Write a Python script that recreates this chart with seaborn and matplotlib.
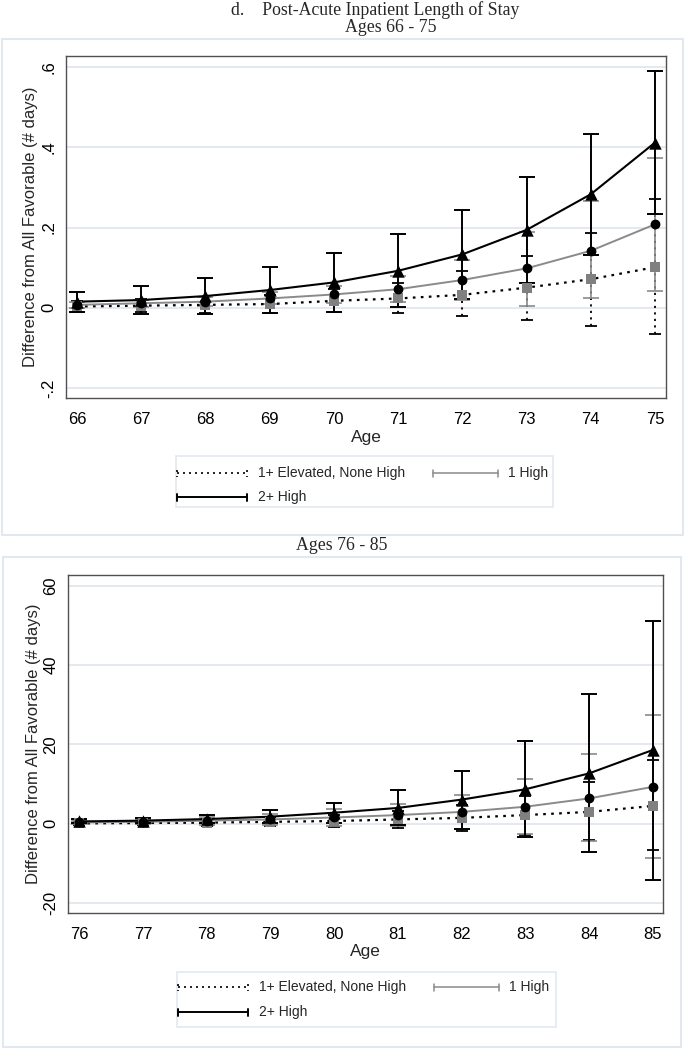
import matplotlib
matplotlib.use("Agg")
import matplotlib.pyplot as plt
from matplotlib.patches import Rectangle
from matplotlib.lines import Line2D
import seaborn as sns
import pandas as pd
import numpy as np

# ---------------- data ----------------
ages_a = [66, 67, 68, 69, 70, 71, 72, 73, 74, 75]
elev_a = [0.003, 0.005, 0.007, 0.009, 0.017, 0.023, 0.032, 0.050, 0.071, 0.101]
elev_a_lo = [-0.010, -0.012, -0.013, -0.014, -0.012, -0.014, -0.022, -0.032, -0.045, -0.066]
elev_a_hi = [0.016, 0.022, 0.027, 0.032, 0.046, 0.062, 0.092, 0.129, 0.186, 0.270]
one_a = [0.007, 0.011, 0.015, 0.023, 0.033, 0.046, 0.069, 0.098, 0.142, 0.208]
one_a_lo = [0.000, 0.002, 0.004, 0.008, 0.011, 0.014, 0.019, 0.005, 0.023, 0.042]
one_a_hi = [0.014, 0.020, 0.026, 0.038, 0.055, 0.078, 0.119, 0.190, 0.266, 0.374]
two_a = [0.015, 0.019, 0.029, 0.044, 0.063, 0.092, 0.133, 0.194, 0.283, 0.412]
two_a_lo = [-0.010, -0.016, -0.017, -0.014, -0.012, 0.001, 0.022, 0.062, 0.132, 0.233]
two_a_hi = [0.040, 0.054, 0.075, 0.102, 0.137, 0.183, 0.244, 0.326, 0.434, 0.591]

ages_b = [76, 77, 78, 79, 80, 81, 82, 83, 84, 85]
elev_b = [0.1, 0.2, 0.3, 0.5, 0.7, 1.1, 1.5, 2.2, 3.0, 4.5]
elev_b_lo = [-0.3, -0.4, -0.5, -0.6, -0.8, -1.0, -1.7, -2.7, -4.1, -6.6]
elev_b_hi = [0.5, 0.8, 1.1, 1.6, 2.2, 3.2, 4.7, 7.0, 10.6, 16.1]
one_b = [0.35, 0.5, 0.8, 1.1, 1.6, 2.2, 3.0, 4.3, 6.4, 9.3]
one_b_lo = [-0.1, -0.1, -0.2, -0.3, -0.5, -0.6, -1.2, -2.6, -4.4, -8.6]
one_b_hi = [0.8, 1.1, 1.8, 2.5, 3.7, 5.0, 7.2, 11.3, 17.7, 27.4]
two_b = [0.6, 0.8, 1.2, 1.8, 2.8, 4.0, 6.1, 8.7, 12.7, 18.6]
two_b_lo = [0.1, 0.2, 0.2, 0.2, 0.3, -0.3, -1.3, -3.4, -7.2, -14.2]
two_b_hi = [1.1, 1.4, 2.2, 3.4, 5.3, 8.5, 13.2, 20.8, 32.6, 51.1]

series_names = ["1+ Elevated, None High", "1 High", "2+ High"]
yticks_a = [-0.2, 0, 0.2, 0.4, 0.6]
yticklabels_a = ["-.2", "0", ".2", ".4", ".6"]
yticks_b = [-20, 0, 20, 40, 60]
yticklabels_b = ["-20", "0", "20", "40", "60"]

main_title = "d.    Post-Acute Inpatient Length of Stay"
sub_a = "Ages 66 - 75"
sub_b = "Ages 76 - 85"
ylabel = "Difference from All Favorable (# days)"
xlabel = "Age"

# ---------------- style ----------------
sns.set_style("white")
plt.rcParams["font.family"] = ["Liberation Sans", "DejaVu Sans"]

W, H = 685, 1050
fig = plt.figure(figsize=(W / 100, H / 100), dpi=100)

GRID = "#dfe5ee"
SPINE = "#505050"
DOT = (0, (1.2, 2.4))
C_GRAY = "#8a8a8a"
C_SQ = "#808080"


def px_axes(l, t, r, b):
    return fig.add_axes([l / W, 1 - b / H, (r - l) / W, (b - t) / H])


def draw_panel(ax, ages, s_e, lo_e, hi_e, s_1, lo_1, hi_1, s_2, lo_2, hi_2,
               xlim, ylim, yt, ytl):
    df = pd.DataFrame({"age": ages, "elev": s_e, "one": s_1, "two": s_2})
    for v in yt:
        ax.axhline(v, color=GRID, lw=1.2, zorder=0)
    # series 1: dotted line + dotted caps, gray squares
    ax.errorbar(ages, s_e, yerr=[np.array(s_e) - np.array(lo_e), np.array(hi_e) - np.array(s_e)],
                fmt="none", ecolor="black", elinewidth=1.3, capsize=4, capthick=1.3,
                linestyle=DOT, zorder=2)
    eb = ax.containers[-1]
    for lc in eb.lines[2]:
        lc.set_linestyle(DOT)
    sns.lineplot(data=df, x="age", y="elev", ax=ax, color="black", lw=1.6,
                 linestyle=DOT, zorder=3)
    sns.scatterplot(data=df, x="age", y="elev", ax=ax, color=C_SQ, marker="s",
                    s=55, edgecolor=C_SQ, linewidth=0, zorder=6)
    # series 2: gray line, gray caps, black circles
    ax.errorbar(ages, s_1, yerr=[np.array(s_1) - np.array(lo_1), np.array(hi_1) - np.array(s_1)],
                fmt="none", ecolor=C_GRAY, elinewidth=1.2, capsize=6, capthick=1.2, zorder=2)
    sns.lineplot(data=df, x="age", y="one", ax=ax, color=C_GRAY, lw=1.4, zorder=3)
    sns.scatterplot(data=df, x="age", y="one", ax=ax, color="black", marker="o",
                    s=50, edgecolor="black", linewidth=0, zorder=6)
    # series 3: black line, black caps, black triangles
    ax.errorbar(ages, s_2, yerr=[np.array(s_2) - np.array(lo_2), np.array(hi_2) - np.array(s_2)],
                fmt="none", ecolor="black", elinewidth=1.4, capsize=6, capthick=1.4, zorder=4)
    sns.lineplot(data=df, x="age", y="two", ax=ax, color="black", lw=1.5, zorder=5)
    sns.scatterplot(data=df, x="age", y="two", ax=ax, color="black", marker="^",
                    s=80, edgecolor="black", linewidth=0, zorder=7)

    ax.set_xlim(*xlim)
    ax.set_ylim(*ylim)
    ax.set_xticks(ages)
    ax.set_xticklabels([str(a) for a in ages])
    ax.set_yticks(yt)
    ax.set_yticklabels(ytl, rotation=90, va="center")
    ax.tick_params(axis="both", direction="out", length=5, width=1, color=SPINE,
                   labelsize=12, labelcolor="black", pad=2)
    ax.tick_params(axis="x", pad=5)
    for s in ax.spines.values():
        s.set_color(SPINE)
        s.set_linewidth(1.0)
    ax.set_xlabel(xlabel, fontsize=12.5, labelpad=2)
    ax.set_ylabel(ylabel, fontsize=12, labelpad=2)


ax1 = px_axes(66, 56, 666, 398)
draw_panel(ax1, ages_a, elev_a, elev_a_lo, elev_a_hi, one_a, one_a_lo, one_a_hi,
           two_a, two_a_lo, two_a_hi, (65.829, 75.171), (-0.2254, 0.628),
           yticks_a, yticklabels_a)

ax2 = px_axes(68.3, 575, 663.3, 912.7)
draw_panel(ax2, ages_b, elev_b, elev_b_lo, elev_b_hi, one_b, one_b_lo, one_b_hi,
           two_b, two_b_lo, two_b_hi, (75.827, 85.166), (-22.4, 62.7),
           yticks_b, yticklabels_b)

# ---------------- decorations overlay (pixel coords) ----------------
ov = fig.add_axes([0, 0, 1, 1], zorder=-1)
ov.set_xlim(0, W)
ov.set_ylim(H, 0)
ov.axis("off")
ov.patch.set_alpha(0)

BORDER = "#e3e8f0"
ov.add_patch(Rectangle((2, 39), 681, 496, fill=False, ec=BORDER, lw=1.5))
ov.add_patch(Rectangle((3, 557), 678, 490, fill=False, ec=BORDER, lw=1.5))

serif = ["Liberation Serif", "DejaVu Serif"]
ov.text(375, 10, main_title, ha="center", va="center", fontsize=12.8, family=serif)
ov.text(391, 28, sub_a, ha="center", va="center", fontsize=12.8, family=serif)
ov.text(342, 546, sub_b, ha="center", va="center", fontsize=12.8, family=serif)

ov2 = fig.add_axes([0, 0, 1, 1], zorder=10)
ov2.set_xlim(0, W)
ov2.set_ylim(H, 0)
ov2.axis("off")
ov2.patch.set_alpha(0)


def legend_box(l, t, r, b, y1, y2):
    ov2.add_patch(Rectangle((l, t), r - l, b - t, fill=False, ec=BORDER, lw=1.2))
    keys = [(l + 1.5, l + 71, y1, "black", DOT, 1.2, series_names[0], l + 82),
            (l + 257, l + 322, y1, C_GRAY, "-", 1.1, series_names[1], l + 332),
            (l + 1.5, l + 71, y2, "black", "-", 1.4, series_names[2], l + 82)]
    for x0, x1, y, c, ls, lw, name, tx in keys:
        ov2.add_line(Line2D([x0, x1], [y, y], color=c, linestyle=ls, lw=lw))
        for xc in (x0, x1):
            ov2.add_line(Line2D([xc, xc], [y - 3.5, y + 3.5], color=c, linestyle=ls, lw=lw))
        ov2.text(tx, y, name, ha="left", va="center", fontsize=10)


legend_box(176, 456, 553, 507, 473, 497)
legend_box(177, 972, 556, 1027, 987, 1012)

fig.savefig("out.png", dpi=100)
